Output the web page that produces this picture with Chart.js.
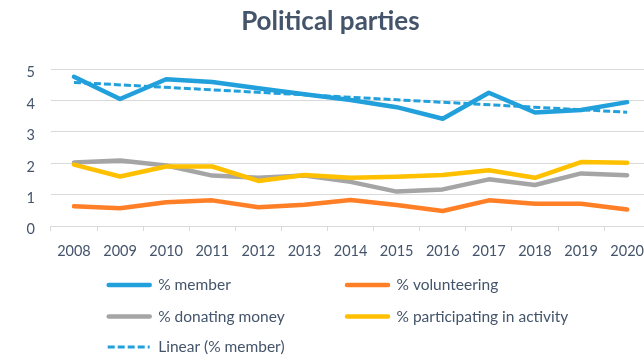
<!DOCTYPE html>
<html>
<head>
<meta charset="utf-8">
<script src="https://cdn.jsdelivr.net/npm/chart.js@4.4.1/dist/chart.umd.min.js"></script>
<style>
  html, body { margin: 0; padding: 0; background: #fff; overflow: hidden; }
  #wrap { position: relative; width: 660px; height: 356px; }
</style>
</head>
<body>
<div id="wrap"><canvas id="c" width="660" height="356"></canvas></div>
<script>
const years = ['2008','2009','2010','2011','2012','2013','2014','2015','2016','2017','2018','2019','2020'];
const member        = [4.76, 4.05, 4.68, 4.59, 4.39, 4.20, 4.02, 3.79, 3.42, 4.25, 3.62, 3.70, 3.95];
const volunteering  = [0.63, 0.57, 0.76, 0.82, 0.60, 0.68, 0.83, 0.67, 0.48, 0.82, 0.71, 0.71, 0.53];
const donating      = [2.03, 2.09, 1.93, 1.61, 1.54, 1.61, 1.41, 1.10, 1.17, 1.49, 1.31, 1.68, 1.62];
const participating = [1.96, 1.58, 1.90, 1.90, 1.44, 1.63, 1.54, 1.57, 1.63, 1.78, 1.54, 2.04, 2.02];
const trendMember   = [4.58, null, null, null, null, null, null, null, null, null, null, null, 3.63];
const yTicks = [0, 1, 2, 3, 4, 5];

const TXT = '#44546A';
const FONT = 'Lato, "Open Sans", sans-serif';

const legendPlugin = {
  id: 'gridLegend',
  afterDraw(chart) {
    const ctx = chart.ctx;
    const base = chart.scales.x.bottom;
    const cols = [106.7, 345];
    const rows = [base + 12.5, base + 44, base + 74.5];
    const lineLen = 45;
    ctx.save();
    ctx.font = '15.5px ' + FONT;
    ctx.textBaseline = 'middle';
    ctx.textAlign = 'left';
    chart.data.datasets.forEach((ds, i) => {
      const x = cols[i % 2];
      const y = rows[Math.floor(i / 2)];
      ctx.beginPath();
      ctx.strokeStyle = ds.borderColor;
      ctx.lineWidth = ds.legendWidth;
      ctx.lineCap = ds.borderDash ? 'butt' : 'round';
      ctx.setLineDash(ds.borderDash || []);
      ctx.moveTo(x + (ds.borderDash ? 1 : 2), y);
      ctx.lineTo(x + lineLen - 2, y);
      ctx.stroke();
      ctx.setLineDash([]);
      ctx.fillStyle = TXT;
      ctx.fillText(ds.label, x + 51.5, y);
    });
    ctx.restore();
  }
};

const common = { fill: false, pointRadius: 0, pointHoverRadius: 0, tension: 0,
  borderCapStyle: 'round', borderJoinStyle: 'round' };

new Chart(document.getElementById('c'), {
  type: 'line',
  data: {
    labels: years,
    datasets: [
      Object.assign({ label: '% member', data: member, borderColor: '#21A0DB', borderWidth: 4.5, legendWidth: 4.5, order: 1 }, common),
      Object.assign({ label: '% volunteering', data: volunteering, borderColor: '#FF7F27', borderWidth: 4.5, legendWidth: 4.5, order: 2 }, common),
      Object.assign({ label: '% donating money', data: donating, borderColor: '#A5A5A5', borderWidth: 4.5, legendWidth: 4.5, order: 4 }, common),
      Object.assign({ label: '% participating in activity', data: participating, borderColor: '#FFC000', borderWidth: 4.5, legendWidth: 4.5, order: 3 }, common),
      Object.assign({}, common, { label: 'Linear (% member)', data: trendMember, borderColor: '#21A0DB', borderWidth: 3, legendWidth: 3,
        borderDash: [7, 3], borderCapStyle: 'butt', spanGaps: true, order: 0 })
    ]
  },
  options: {
    responsive: false,
    animation: false,
    devicePixelRatio: 1,
    events: [],
    layout: { padding: { left: 10.5, right: 9.8, top: 0, bottom: 83.5 } },
    plugins: {
      legend: { display: false },
      tooltip: { enabled: false },
      title: {
        display: true,
        text: 'Political parties',
        color: TXT,
        font: { family: FONT, size: 26, weight: 'bold', lineHeight: 1.2 },
        padding: { top: 6, bottom: 32 }
      }
    },
    scales: {
      x: {
        offset: true,
        grid: { display: true, drawOnChartArea: false, drawTicks: true, tickLength: 5, color: '#D9D9D9', offset: true },
        border: { display: true, color: '#D9D9D9', width: 1 },
        ticks: { color: TXT, font: { family: FONT, size: 14.5 }, padding: 12, maxRotation: 0, autoSkip: false }
      },
      y: {
        min: yTicks[0], max: yTicks[yTicks.length - 1],
        afterBuildTicks(scale) { scale.ticks = yTicks.map(v => ({ value: v })); },
        grid: { color: '#D9D9D9', drawTicks: false, lineWidth: 1 },
        border: { display: false },
        ticks: { color: TXT, font: { family: FONT, size: 14.5 }, padding: 16, labelOffset: 3.5 }
      }
    }
  },
  plugins: [legendPlugin]
});
</script>
</body>
</html>
